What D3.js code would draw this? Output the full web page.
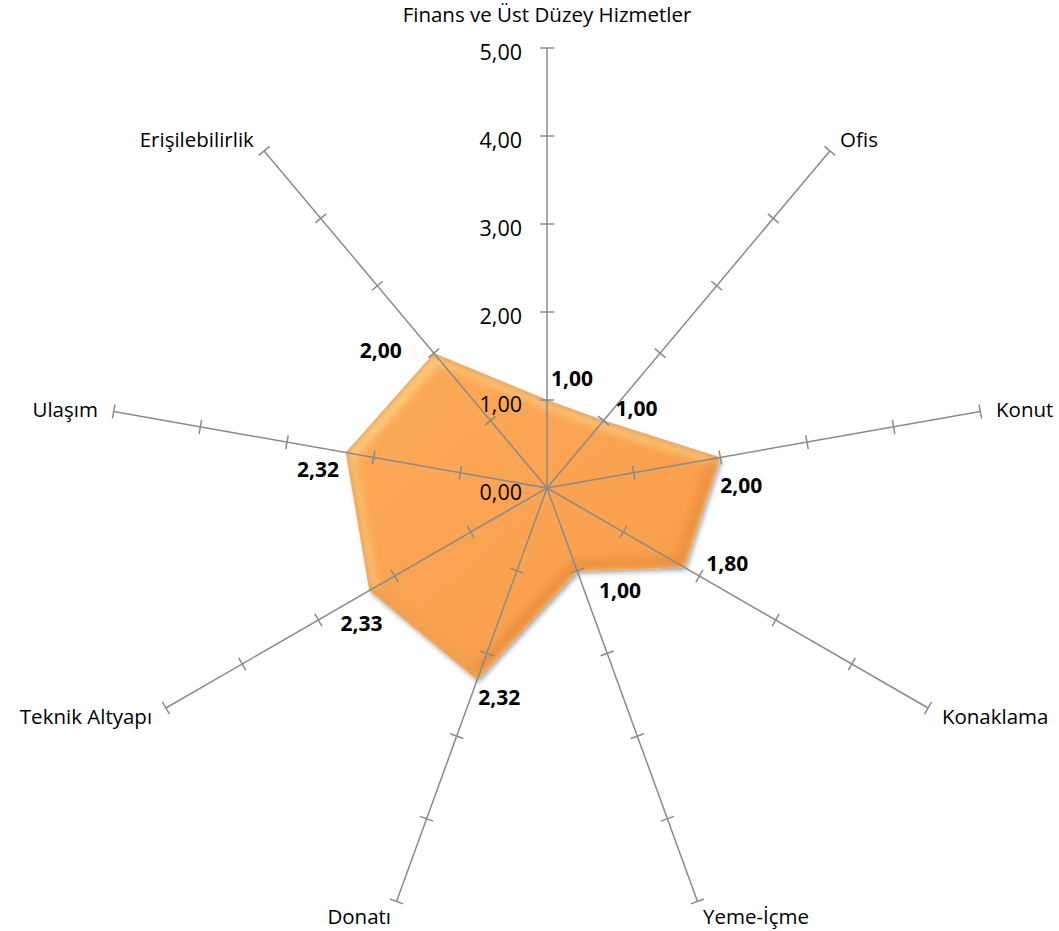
<!DOCTYPE html>
<html>
<head>
<meta charset="utf-8">
<script src="https://cdn.jsdelivr.net/npm/d3@7"></script>
<style>
  html, body { margin: 0; padding: 0; background: #ffffff; }
  svg { display: block; }
  text { font-family: "Open Sans", "Liberation Sans", Arial, sans-serif; }
</style>
</head>
<body>
<svg id="chart" width="1059" height="931"></svg>
<script>
// Radar chart: urban function scores per category (0–5 scale)
const categories = [
  "Finans ve Üst Düzey Hizmetler",
  "Ofis",
  "Konut",
  "Konaklama",
  "Yeme-İçme",
  "Donatı",
  "Teknik Altyapı",
  "Ulaşım",
  "Erişilebilirlik"
];
const values = [1.00, 1.00, 2.00, 1.80, 1.00, 2.32, 2.33, 2.32, 2.00];
const tickValues = [0, 1, 2, 3, 4, 5];
const tickLabels = ["0,00", "1,00", "2,00", "3,00", "4,00", "5,00"];

const fmt = v => v.toFixed(2).replace(".", ",");

const svg = d3.select("#chart");
const cx = 547, cy = 488, R = 440;

const r = d3.scaleLinear().domain([0, 5]).range([0, R]);
const angle = d3.scaleLinear().domain([0, categories.length]).range([0, 2 * Math.PI]);

// point at (index, value) in screen coordinates; angle measured clockwise from top
const pt = (i, v) => {
  const a = angle(i);
  return [cx + r(v) * Math.sin(a), cy - r(v) * Math.cos(a)];
};

const defs = svg.append("defs");

// soft drop shadow under the filled area
const shadow = defs.append("filter").attr("id", "shadow")
  .attr("x", "-10%").attr("y", "-10%").attr("width", "120%").attr("height", "120%");
shadow.append("feGaussianBlur").attr("in", "SourceAlpha").attr("stdDeviation", 2.5).attr("result", "b");
shadow.append("feOffset").attr("in", "b").attr("dx", 1.5).attr("dy", 2.5).attr("result", "o");
shadow.append("feComponentTransfer").attr("in", "o").attr("result", "s")
  .append("feFuncA").attr("type", "linear").attr("slope", 0.35);
const sm = shadow.append("feMerge");
sm.append("feMergeNode").attr("in", "s");
sm.append("feMergeNode").attr("in", "SourceGraphic");

const edgeBlur = defs.append("filter").attr("id", "edgeBlur")
  .attr("x", "-10%").attr("y", "-10%").attr("width", "120%").attr("height", "120%");
edgeBlur.append("feGaussianBlur").attr("stdDeviation", 4);

const grad = defs.append("linearGradient").attr("id", "fillGrad")
  .attr("x1", "0").attr("y1", "0").attr("x2", "1").attr("y2", "1");
grad.append("stop").attr("offset", "0%").attr("stop-color", "#fcab59");
grad.append("stop").attr("offset", "100%").attr("stop-color", "#f89c4a");

const polyPts = values.map((v, i) => pt(i, v));
const line = d3.line().curve(d3.curveLinearClosed);

defs.append("clipPath").attr("id", "polyClip")
  .append("path").attr("d", line(polyPts));

// filled series area with bevelled edges
const area = svg.append("g").attr("filter", "url(#shadow)");
area.append("path")
  .attr("d", line(polyPts))
  .attr("fill", "url(#fillGrad)");

const bevel = svg.append("g").attr("clip-path", "url(#polyClip)");
bevel.append("path")
  .attr("d", line(polyPts))
  .attr("transform", "translate(3,4)")
  .attr("fill", "none")
  .attr("stroke", "#ffd98e")
  .attr("stroke-width", 10)
  .attr("filter", "url(#edgeBlur)")
  .attr("opacity", 0.9);
bevel.append("path")
  .attr("d", line(polyPts))
  .attr("transform", "translate(-3,-4)")
  .attr("fill", "none")
  .attr("stroke", "#d9782c")
  .attr("stroke-width", 10)
  .attr("filter", "url(#edgeBlur)")
  .attr("opacity", 0.55);

// spokes with unit tick marks
const axisColor = "#8a8a8a";
const spokes = svg.append("g");
categories.forEach((c, i) => {
  const [x1, y1] = pt(i, 5);
  spokes.append("line")
    .attr("x1", cx).attr("y1", cy).attr("x2", x1).attr("y2", y1)
    .attr("stroke", axisColor).attr("stroke-width", 1.5);
  const a = angle(i);
  const px = Math.cos(a), py = Math.sin(a); // perpendicular direction
  tickValues.filter(t => t > 0).forEach(t => {
    const [tx, ty] = pt(i, t);
    spokes.append("line")
      .attr("x1", tx - 7 * px).attr("y1", ty - 7 * py)
      .attr("x2", tx + 7 * px).attr("y2", ty + 7 * py)
      .attr("stroke", axisColor).attr("stroke-width", 1.5);
  });
});

// value scale labels along the top spoke
svg.append("g").selectAll("text")
  .data(tickValues)
  .join("text")
  .attr("x", cx - 25)
  .attr("y", d => cy - r(d) + 3)
  .attr("text-anchor", "end")
  .attr("dominant-baseline", "central")
  .attr("font-size", 21.5)
  .attr("fill", "#000")
  .text((d, i) => tickLabels[i]);

// category labels outside each spoke
svg.append("g").selectAll("text")
  .data(categories)
  .join("text")
  .each(function (d, i) {
    const a = angle(i);
    const s = Math.sin(a), c = Math.cos(a);
    const rr = R + 16;
    const x = cx + rr * s;
    let y = cy - rr * c;
    if (c > 0.95) y -= 18;
    d3.select(this)
      .attr("x", x)
      .attr("y", y)
      .attr("text-anchor", s > 0.1 ? "start" : (s < -0.1 ? "end" : "middle"));
  })
  .attr("dominant-baseline", "central")
  .attr("font-size", 20.5)
  .attr("fill", "#000")
  .text(d => d);

// data labels next to each vertex
const labelOffsets = [[25, -22], [33, -13], [21, 28], [43, -4], [43, 19], [22, 17], [-8, 32], [-28, 16], [-53, -3]];
svg.append("g").selectAll("text")
  .data(values)
  .join("text")
  .attr("x", (d, i) => pt(i, d)[0] + labelOffsets[i][0])
  .attr("y", (d, i) => pt(i, d)[1] + labelOffsets[i][1])
  .attr("text-anchor", "middle")
  .attr("dominant-baseline", "central")
  .attr("font-size", 21)
  .attr("font-weight", "bold")
  .attr("fill", "#000")
  .text(d => fmt(d));
</script>
</body>
</html>
